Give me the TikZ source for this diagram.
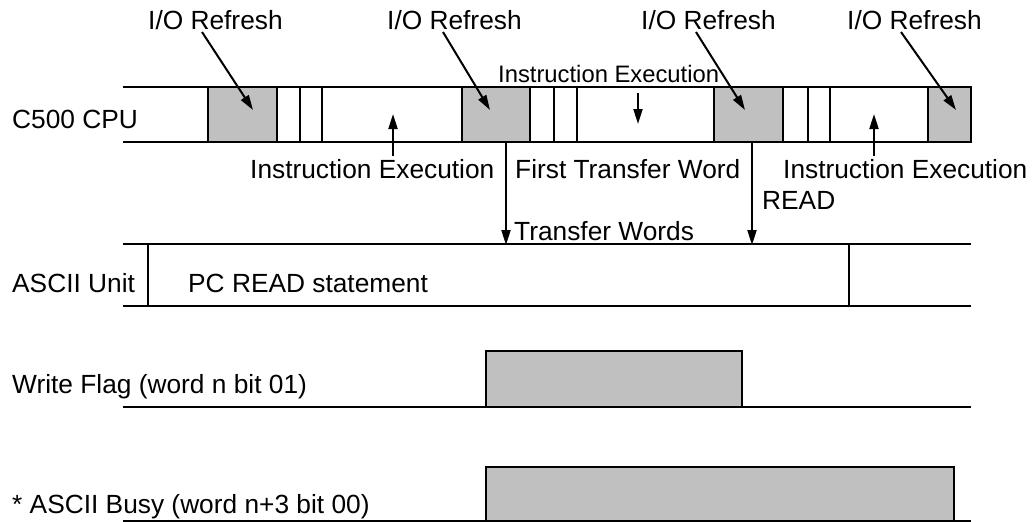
\documentclass[tikz,border=0pt]{standalone}
\usepackage{fontspec}
\setmainfont{Liberation Sans}
\usetikzlibrary{arrows.meta}
\definecolor{boxgray}{HTML}{C0C0C0}
\begin{document}
\begin{tikzpicture}[x=1pt,y=-1pt,
  lbl/.style={font=\fontsize{26.3}{30}\selectfont, inner sep=0pt, anchor=base west},
  smalllbl/.style={font=\fontsize{23.8}{27}\selectfont, inner sep=0pt, anchor=base west},
  sig/.style={line width=2.5pt},
  tick/.style={line width=2pt},
  gbox/.style={draw, line width=2.5pt, fill=boxgray},
  arr/.style={line width=2pt, -{Triangle[length=15pt,width=9pt]}}]
\useasboundingbox (0,0) rectangle (1034,522);

% ---- C500 CPU band ----
\draw[gbox] (208,87) rectangle (277,142);
\draw[gbox] (462,87) rectangle (530,142);
\draw[gbox] (714,87) rectangle (783,142);
\draw[gbox] (928,87) rectangle (971,142);
\draw[sig] (123,87) -- (971,87);
\draw[sig] (123,142) -- (971,142);
\foreach \x in {300,322,554,577,808,830} \draw[tick] (\x,87) -- (\x,142);
\node[lbl] (cpu) at (12,128) {C500 CPU};

% ---- I/O Refresh labels and arrows ----
\node[lbl] (io1) at (148,29) {I/O Refresh};
\node[lbl] (io2) at (387,29) {I/O Refresh};
\node[lbl] (io3) at (641,29) {I/O Refresh};
\node[lbl] (io4) at (847,29) {I/O Refresh};
\coordinate (io1s) at (202,32); \coordinate (io1e) at (253,110);
\coordinate (io2s) at (443,32); \coordinate (io2e) at (490,110);
\coordinate (io3s) at (696,32); \coordinate (io3e) at (745,110);
\coordinate (io4s) at (901,32); \coordinate (io4e) at (956,110);
\draw[arr] (io1s) -- (io1e);
\draw[arr] (io2s) -- (io2e);
\draw[arr] (io3s) -- (io3e);
\draw[arr] (io4s) -- (io4e);

% ---- Instruction Execution labels ----
\node[lbl] (ie1) at (250,178) {Instruction Execution};
\coordinate (ie1s) at (393,156); \coordinate (ie1e) at (393,114);
\draw[arr] (ie1s) -- (ie1e);
\node[smalllbl] (ie2) at (498,82) {Instruction Execution};
\coordinate (ie2s) at (638,93); \coordinate (ie2e) at (638,124);
\draw[arr] (ie2s) -- (ie2e);
\node[lbl] (ie3) at (783,178) {Instruction Execution};
\coordinate (ie3s) at (874,156); \coordinate (ie3e) at (874,114);
\draw[arr] (ie3s) -- (ie3e);

% ---- Transfer arrows ----
\coordinate (t1s) at (506,142); \coordinate (t1e) at (506,245);
\coordinate (t2s) at (752,142); \coordinate (t2e) at (752,245);
\draw[arr] (t1s) -- (t1e);
\draw[arr] (t2s) -- (t2e);
\node[lbl] (ftw) at (515,178) {First Transfer Word};
\node[lbl] (rd) at (762,209) {READ};
\node[lbl] (tw) at (514,240) {Transfer Words};

% ---- ASCII Unit band ----
\draw[sig] (123,244) -- (971,244);
\draw[sig] (123,306) -- (971,306);
\draw[tick] (148,244) -- (148,306);
\draw[tick] (849,244) -- (849,306);
\node[lbl] (au) at (12,292) {ASCII Unit};
\node[lbl] (pcr) at (188,292) {PC READ statement};

% ---- Write Flag ----
\draw[gbox] (486,351) rectangle (742,407);
\draw[sig] (123,407) -- (486,407);
\draw[sig] (742,407) -- (971,407);
\node[lbl] (wf) at (12,393) {Write Flag (word n bit 01)};

% ---- ASCII Busy ----
\draw[gbox] (486,467) rectangle (954,521);
\draw[sig] (123,521) -- (486,521);
\draw[sig] (954,521) -- (971,521);
\node[lbl] (ab) at (12,513) {* ASCII Busy (word n+3 bit 00)};
\end{tikzpicture}
\end{document}
